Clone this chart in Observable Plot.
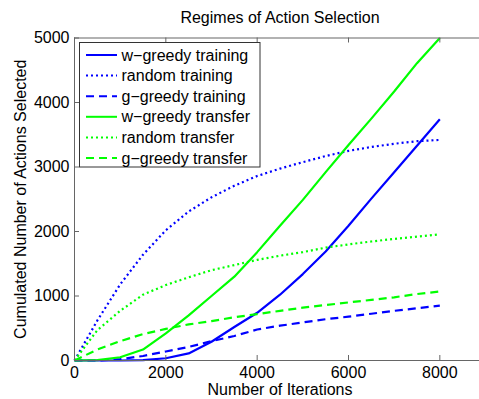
<!DOCTYPE html>
<html><head><meta charset="utf-8">
<script src="https://cdn.jsdelivr.net/npm/d3@7"></script>
<script src="https://cdn.jsdelivr.net/npm/@observablehq/plot@0.6"></script>
<style>
html,body{margin:0;padding:0;background:#fff;overflow:hidden;width:479px;height:399px;}
#chart svg{display:block;max-width:none;}
</style></head><body><div id="chart"></div>
<script>
// ---- data ----
const iterations = [0,500,1000,1500,2000,2500,3000,3500,4000,4500,5000,5500,6000,6500,7000,7500,8000];
const wGreedyTraining = [0,0,0,5,35,110,290,520,740,1020,1340,1690,2090,2510,2920,3330,3740];
const randomTraining  = [0,620,1180,1640,2020,2310,2530,2710,2860,2975,3075,3170,3250,3310,3360,3400,3420];
const gGreedyTraining = [0,0,20,70,140,210,300,380,480,540,590,640,680,725,770,810,850];
const wGreedyTransfer = [0,5,50,170,420,700,1000,1300,1680,2090,2490,2920,3340,3750,4170,4610,5000];
const randomTransfer  = [0,470,770,1020,1170,1290,1400,1480,1560,1625,1680,1750,1800,1845,1885,1920,1956];
const gGreedyTransfer = [0,170,300,410,490,560,610,670,720,770,820,860,900,940,980,1030,1070];
const seriesNames = ["w\u2212greedy training","random training","g\u2212greedy training","w\u2212greedy transfer","random transfer","g\u2212greedy transfer"];
const seriesValues = [wGreedyTraining, randomTraining, gGreedyTraining, wGreedyTransfer, randomTransfer, gGreedyTransfer];
const xTicks = [0,2000,4000,6000,8000];
const yTicks = [0,1000,2000,3000,4000,5000];
const titleText = "Regimes of Action Selection";
const xLabel = "Number of Iterations";
const yLabel = "Cumulated Number of Actions Selected";

// ---- styles ----
const colors = ["#0000ff","#0000ff","#0000ff","#00ff00","#00ff00","#00ff00"];
const dashes = [null,"2,3","8,5",null,"2,3","8,5"];
const axisColor = "#666";
const font = "'Liberation Sans', Arial, Helvetica, sans-serif";

const W = 485, H = 399, mL = 74, mR = 0, mT = 37.5, mB = 39;
const innerW = W - mL - mR, innerH = H - mT - mB;

const table = seriesNames.map((name, i) => iterations.map((x, j) => ({x, y: seriesValues[i][j], series: name})));

const lineMarks = table.map((rows, i) => Plot.line(rows, {
  x: "x", y: "y", stroke: colors[i], strokeWidth: 2.2,
  strokeDasharray: dashes[i] || undefined, strokeLinecap: "butt", strokeLinejoin: "round"
}));

const chart = Plot.plot({
  width: W, height: H,
  marginLeft: mL, marginRight: mR, marginTop: mT, marginBottom: mB,
  style: {fontFamily: font, fontSize: "16px", background: "white", color: "black", maxWidth: "none"},
  x: {domain: [0, 9000]},
  y: {domain: [0, 5000]},
  marks: [
    ...lineMarks,
    Plot.frame({stroke: axisColor}),
    Plot.tickX(xTicks, {x: d => d, insetTop: innerH - 5, stroke: axisColor}),
    Plot.tickX(xTicks, {x: d => d, insetBottom: innerH - 5, stroke: axisColor}),
    Plot.tickY(yTicks, {y: d => d, insetRight: innerW - 5, stroke: axisColor}),
    Plot.axisX(xTicks, {tickSize: 0, tickPadding: 6, fontSize: 16, tickFormat: d => String(d), label: null, fill: "black"}),
    Plot.axisY(yTicks, {tickSize: 0, tickPadding: 5, fontSize: 16, tickFormat: d => String(d), label: null, fill: "black"}),
    Plot.text([titleText], {text: d => d, frameAnchor: "top", lineAnchor: "middle", textAnchor: "middle", dy: -20.5, fontSize: 16, fill: "black"}),
    Plot.text([xLabel], {text: d => d, frameAnchor: "bottom", lineAnchor: "middle", textAnchor: "middle", dy: 29.5, fontSize: 16, fill: "black"}),
    Plot.text([yLabel], {text: d => d, frameAnchor: "left", lineAnchor: "middle", textAnchor: "middle", dx: -54, rotate: -90, fontSize: 16, fill: "black"})
  ]
});
document.getElementById("chart").appendChild(chart);

// ---- legend ----
const svg = d3.select(chart);
const lg = svg.append("g").attr("font-family", font).attr("font-size", 16).attr("text-anchor", "start");
lg.append("rect").attr("x", 79.5).attr("y", 42.5).attr("width", 180.5).attr("height", 124.5)
  .attr("fill", "white").attr("stroke", "#333");
seriesNames.forEach((name, i) => {
  const yy = 55 + i * 20.6;
  lg.append("line").attr("x1", 86).attr("x2", 117).attr("y1", yy).attr("y2", yy)
    .attr("stroke", colors[i]).attr("stroke-width", 2)
    .attr("stroke-dasharray", dashes[i]);
  lg.append("text").attr("x", 121.5).attr("y", yy).attr("dy", "0.35em").attr("fill", "black")
    .style("font-size", "16px").text(name);
});
</script></body></html>
